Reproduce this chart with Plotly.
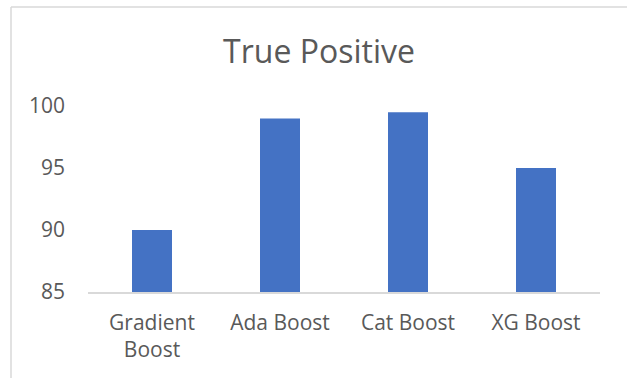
import plotly.graph_objects as go

# Data
models = ["Gradient Boost", "Ada Boost", "Cat Boost", "XG Boost"]
tick_labels = ["Gradient<br>Boost", "Ada Boost", "Cat Boost", "XG Boost"]
true_positive = [90, 99, 99.5, 95]
y_ticks = [85, 90, 95, 100]

W, H = 627, 378
ML, MR, MT, MB = 88, 27, 106, 86
plot_w = W - ML - MR
plot_h = H - MT - MB

FONT = "Open Sans"
TEXT = "#595959"
LINE = "#d9d9d9"

fig = go.Figure(
    go.Bar(
        x=models,
        y=true_positive,
        marker=dict(color="#4472C4", line=dict(width=0)),
    )
)

# chart-area frame (top and left edges; right/bottom fall outside the view)
def px_to_paper_x(px):
    return (px - ML) / plot_w

def px_to_paper_y(py):
    return (H - MB - py) / plot_h

frame_x, frame_y = 11, 7
fig.add_shape(type="line", xref="paper", yref="paper",
              x0=px_to_paper_x(frame_x), x1=px_to_paper_x(W + 5),
              y0=px_to_paper_y(frame_y), y1=px_to_paper_y(frame_y),
              line=dict(color=LINE, width=1.5))
fig.add_shape(type="line", xref="paper", yref="paper",
              x0=px_to_paper_x(frame_x), x1=px_to_paper_x(frame_x),
              y0=px_to_paper_y(frame_y), y1=px_to_paper_y(H + 5),
              line=dict(color=LINE, width=1.5))

fig.update_layout(
    width=W,
    height=H,
    margin=dict(l=ML, r=MR, t=MT, b=MB),
    paper_bgcolor="white",
    plot_bgcolor="white",
    bargap=0.6875,
    showlegend=False,
    font=dict(family=FONT, color=TEXT, size=21),
    title=dict(
        text="True Positive",
        font=dict(family=FONT, size=32, color=TEXT),
        x=319 / W,
        xanchor="center",
        xref="container",
        y=1 - 52 / H,
        yanchor="middle",
        yref="container",
    ),
    xaxis=dict(
        tickmode="array",
        tickvals=models,
        ticktext=tick_labels,
        showline=True,
        linecolor=LINE,
        linewidth=1.5,
        showgrid=False,
        ticks="",
        ticklabelstandoff=11,
        tickfont=dict(family=FONT, size=21, color=TEXT),
        fixedrange=True,
    ),
    yaxis=dict(
        range=[85, 100],
        tickmode="array",
        tickvals=y_ticks,
        showline=False,
        showgrid=False,
        zeroline=False,
        ticks="",
        ticklabelstandoff=22,
        tickfont=dict(family=FONT, size=21, color=TEXT),
        fixedrange=True,
    ),
)

fig.write_html("out.html")
